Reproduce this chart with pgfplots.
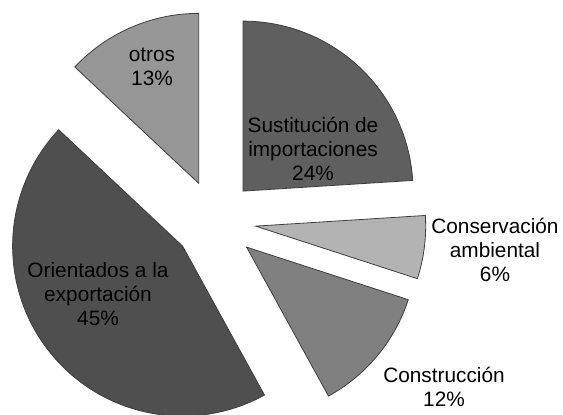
\documentclass[border=0pt]{standalone}
\usepackage{fontspec}
\setmainfont{Liberation Sans}
\usepackage{pgfplots}
\pgfplotsset{compat=1.18}
\definecolor{cSust}{HTML}{5F5F5F}
\definecolor{cCons}{HTML}{B3B3B3}
\definecolor{cConst}{HTML}{808080}
\definecolor{cOrien}{HTML}{4F4F4F}
\definecolor{cOtros}{HTML}{969696}
\definecolor{edgegray}{HTML}{3F3F3F}
% slice: #1 percentage, #2 fill colour ; angles run clockwise from 90 deg
\newcommand{\piestart}{90}
\newcommand{\pieslice}[2]{%
  \pgfmathsetmacro{\pa}{\piestart}%
  \pgfmathsetmacro{\pb}{\piestart-3.6*#1}%
  \pgfmathsetmacro{\pm}{(\pa+\pb)/2}%
  \pgfmathsetmacro{\pcx}{215+41*cos(\pm)}%
  \pgfmathsetmacro{\pcy}{194+41*sin(\pm)}%
  \edef\pietemp{\noexpand\addplot[fill=#2, draw=edgegray, line width=0.8pt, domain=\pb:\pa, samples=90]
    ({\pcx+170*cos(x)},{\pcy+170*sin(x)}) -- (axis cs:\pcx,\pcy) -- cycle;}%
  \pietemp
  \global\let\piestart\pb
}
\begin{document}
\begin{tikzpicture}
\begin{axis}[
  width=563pt, height=415pt, scale only axis,
  xmin=0, xmax=563, ymin=0, ymax=415,
  hide axis, clip=true,
]
\pieslice{24}{cSust}
\pieslice{6}{cCons}
\pieslice{12}{cConst}
\pieslice{45}{cOrien}
\pieslice{13}{cOtros}
\begin{scope}[every node/.style={align=center, font=\fontsize{20.8}{24}\selectfont, text=black, inner sep=0pt}]
\node at (axis cs:313,266) {Sustitución de\\importaciones\\24\%};
\node at (axis cs:495,165) {Conservación\\ambiental\\6\%};
\node at (axis cs:444,28) {Construcción\\12\%};
\node at (axis cs:98,121) {Orientados a la\\exportación\\45\%};
\node at (axis cs:152,348) {otros\\13\%};
\end{scope}
\end{axis}
\pgfresetboundingbox
\path (current axis.south west) rectangle (current axis.north east);
\end{tikzpicture}
\end{document}
